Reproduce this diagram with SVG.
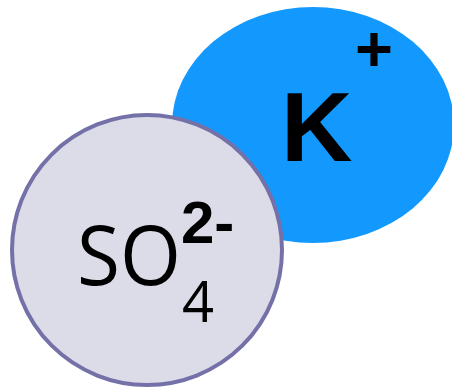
<svg xmlns="http://www.w3.org/2000/svg" width="452" height="389" viewBox="0 0 452 389">
<style>
.lbl{font-family:"Open Sans","Liberation Sans",sans-serif;fill:#000}
.b{font-family:"Liberation Sans",Arial,sans-serif;font-weight:bold;fill:#000}
</style>
<rect width="452" height="389" fill="#fff"/>
<g id="k-ion">
<ellipse cx="313" cy="125" rx="141" ry="118" fill="#1399FD"/>
<text class="b" x="281" y="161" font-size="99">K</text>
<text class="b" x="355" y="71" font-size="65">+</text>
</g>
<g id="so4-ion">
<circle cx="147" cy="250" r="135" fill="#DCDCE8" stroke="#7471A9" stroke-width="4"/>
<text class="lbl" x="77" y="285" font-size="82" textLength="104" lengthAdjust="spacingAndGlyphs">SO</text>
<text class="lbl" x="182" y="322" font-size="56">4</text>
<text class="b" x="181" y="243" font-size="60">2-</text>
</g>
</svg>
